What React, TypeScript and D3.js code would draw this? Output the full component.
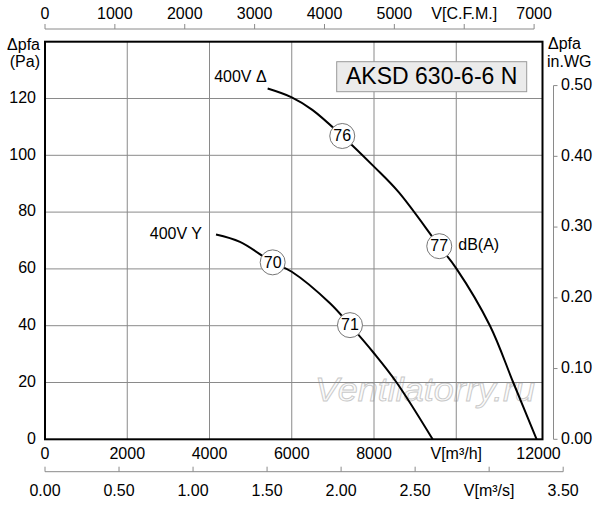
import React from "react";
import * as d3 from "d3";

// ---- data ----
const flowTicks = [0, 2000, 4000, 6000, 8000, 10000, 12000];
const flowLabelAxis = "V[m³/h]";
const flowLabelAt = 10000;
const pressureTicks = [0, 20, 40, 60, 80, 100, 120];
const cfmTicks = [0, 1000, 2000, 3000, 4000, 5000, 6000, 7000];
const cfmLabelAt = 6000;
const msTicks = [0, 0.5, 1.0, 1.5, 2.0, 2.5, 3.0, 3.5];
const msLabelAt = 3.0;
const inwgTicks = [0, 0.1, 0.2, 0.3, 0.4, 0.5];

const deltaFlow = [5414, 6000, 6500, 7228, 8000, 8600, 9587, 10000, 10820, 11386, 11955];
const deltaPa = [123.5, 120.4, 116.0, 106.8, 96.0, 87.0, 68, 60.2, 40, 20, 0];
const starFlow = [4158, 4741, 5536, 6000, 6930, 7416, 8000, 8550, 9426];
const starPa = [72.1, 69.5, 62.3, 59, 47.9, 40.2, 30.3, 20, 0];

const markers = [
  { flow: 7228, pa: 106.8, label: "76" },
  { flow: 9587, pa: 68, label: "77" },
  { flow: 5536, pa: 62.3, label: "70" },
  { flow: 7416, pa: 40.2, label: "71" },
];

const M3H_PER_CFM = 1.699;
const M3H_PER_M3S = 3600;
const PA_PER_INWG = 249.09;

export default function App() {
  const W = 600, H = 505;
  const x = d3.scaleLinear().domain([0, 12000]).range([45, 538.5]);
  const y = d3.scaleLinear().domain([0, 140]).range([439.3, 41.7]);
  const frameRight = x.range()[1] + 4;
  const font = "'Liberation Sans', Arial, Helvetica, sans-serif";
  const fs = 16;

  const line = d3
    .line<[number, number]>()
    .x((d) => x(d[0]))
    .y((d) => y(d[1]))
    .curve(d3.curveCatmullRom.alpha(0.5));

  const deltaPts = deltaFlow.map((f, i) => [f, deltaPa[i]] as [number, number]);
  const starPts = starFlow.map((f, i) => [f, starPa[i]] as [number, number]);

  const topY = 29;
  const msY = 471.7;
  const rightAxisX = 553.5;
  const grey = "#8a8a8a";

  return (
    <svg width={W} height={H} style={{ position: "absolute", left: 0, top: 0 }} fontFamily={font}>
      <rect width={W} height={H} fill="#fff" />

      {/* watermark */}
      <text
        x={425}
        y={392}
        textAnchor="middle"
        dominantBaseline="middle"
        fontSize={34}
        fontStyle="italic"
        fill="#fbfbfb"
        stroke="#c9c9c9"
        strokeWidth={0.9}
        textLength={220}
        lengthAdjust="spacingAndGlyphs"
      >
        Ventilatorry.ru
      </text>

      {/* grid */}
      {flowTicks.slice(1, -1).map((t) => (
        <line key={"gx" + t} x1={x(t)} x2={x(t)} y1={y(0)} y2={y(140)} stroke={grey} strokeWidth={1} />
      ))}
      {pressureTicks.slice(1).map((t) => (
        <line key={"gy" + t} x1={x(0)} x2={frameRight} y1={y(t)} y2={y(t)} stroke={grey} strokeWidth={1} />
      ))}

      {/* frame */}
      <rect x={x(0)} y={y(140)} width={frameRight - x(0)} height={y(0) - y(140)} fill="none" stroke="#000" strokeWidth={2} />

      {/* left tick labels */}
      {pressureTicks.map((t) => (
        <text key={"ly" + t} x={36} y={y(t)} textAnchor="end" dominantBaseline="middle" fontSize={fs}>
          {t}
        </text>
      ))}
      <text x={40} y={46} textAnchor="end" dominantBaseline="middle" fontSize={fs}>Δpfa</text>
      <text x={40} y={63} textAnchor="end" dominantBaseline="middle" fontSize={fs}>(Pa)</text>

      {/* bottom m3/h labels */}
      {flowTicks.map((t) => (
        <text key={"bx" + t} x={x(t)} y={455} textAnchor="middle" dominantBaseline="middle" fontSize={fs}>
          {t === flowLabelAt ? flowLabelAxis : t}
        </text>
      ))}

      {/* top CFM axis */}
      <line x1={x(0)} x2={x(cfmTicks[cfmTicks.length - 1] * M3H_PER_CFM)} y1={topY} y2={topY} stroke={grey} strokeWidth={1} />
      {cfmTicks.map((t) => (
        <g key={"cf" + t}>
          <line x1={x(t * M3H_PER_CFM)} x2={x(t * M3H_PER_CFM)} y1={topY} y2={topY - 5} stroke={grey} strokeWidth={1} />
          <text x={x(t * M3H_PER_CFM)} y={15} textAnchor="middle" dominantBaseline="middle" fontSize={fs}>
            {t === cfmLabelAt ? "V[C.F.M.]" : t}
          </text>
        </g>
      ))}

      {/* bottom m3/s axis */}
      <line x1={x(0)} x2={x(msTicks[msTicks.length - 1] * M3H_PER_M3S)} y1={msY} y2={msY} stroke={grey} strokeWidth={1} />
      {msTicks.map((t) => (
        <g key={"ms" + t}>
          <line x1={x(t * M3H_PER_M3S)} x2={x(t * M3H_PER_M3S)} y1={msY} y2={msY - 5} stroke={grey} strokeWidth={1} />
          <text x={x(t * M3H_PER_M3S)} y={492} textAnchor="middle" dominantBaseline="middle" fontSize={fs}>
            {t === msLabelAt ? "V[m³/s]" : t.toFixed(2)}
          </text>
        </g>
      ))}

      {/* right in.WG axis */}
      <line x1={rightAxisX} x2={rightAxisX} y1={y(0)} y2={y(inwgTicks[inwgTicks.length - 1] * PA_PER_INWG)} stroke={grey} strokeWidth={1} />
      {inwgTicks.map((t) => (
        <g key={"iw" + t}>
          <line x1={rightAxisX} x2={rightAxisX + 4} y1={y(t * PA_PER_INWG)} y2={y(t * PA_PER_INWG)} stroke={grey} strokeWidth={1} />
          <text x={561} y={y(t * PA_PER_INWG)} dominantBaseline="middle" fontSize={fs}>
            {t.toFixed(2)}
          </text>
        </g>
      ))}
      <text x={548} y={45} dominantBaseline="middle" fontSize={fs}>Δpfa</text>
      <text x={547} y={63} dominantBaseline="middle" fontSize={fs}>in.WG</text>

      {/* title box */}
      <rect x={336.7} y={61.7} width={190} height={30} fill="#ebebeb" stroke="#9a9a9a" strokeWidth={1} />
      <text x={431.7} y={77.5} textAnchor="middle" dominantBaseline="middle" fontSize={23}>
        AKSD 630-6-6 N
      </text>

      {/* curves */}
      <path d={line(deltaPts) || ""} fill="none" stroke="#000" strokeWidth={2} />
      <path d={line(starPts) || ""} fill="none" stroke="#000" strokeWidth={2} />

      <text x={x(deltaFlow[0]) - 1} y={y(deltaPa[0]) - 7} textAnchor="end" fontSize={fs}>
        400V Δ
      </text>
      <text x={x(starFlow[0]) - 14} y={y(starPa[0]) + 4} textAnchor="end" fontSize={fs}>
        400V Y
      </text>

      {markers.map((m) => (
        <g key={m.label}>
          <circle cx={x(m.flow)} cy={y(m.pa)} r={12.5} fill="#fff" stroke="#777" strokeWidth={1} />
          <text x={x(m.flow)} y={y(m.pa) + 1} textAnchor="middle" dominantBaseline="middle" fontSize={fs}>
            {m.label}
          </text>
        </g>
      ))}
      <text x={x(markers[1].flow) + 19} y={y(markers[1].pa)} dominantBaseline="middle" fontSize={fs}>
        dB(A)
      </text>
    </svg>
  );
}
